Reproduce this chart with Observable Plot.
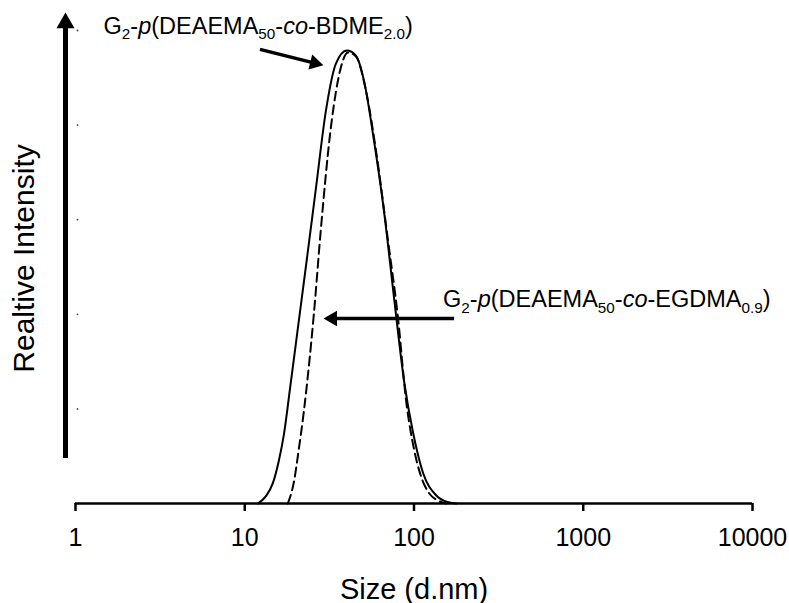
<!DOCTYPE html>
<html>
<head>
<meta charset="utf-8">
<script src="https://cdn.jsdelivr.net/npm/d3@7"></script>
<script src="https://cdn.jsdelivr.net/npm/@observablehq/plot@0.6"></script>
<style>
  html, body { margin: 0; padding: 0; background: #fff; }
  #chart { width: 789px; height: 603px; }
</style>
</head>
<body>
<div id="chart"></div>
<script>
// ---- Data ----
// Solid curve: G2-p(DEAEMA50-co-BDME2.0)
const solidSize      = [11.94, 13.31, 14.64, 15.89, 17.02, 18.47, 20.59, 22.96, 26.31, 30.16, 34.56, 40.14, 45.4, 50.6, 58.0, 66.4, 76.2, 87.3, 98.7, 113, 135, 160, 178];
const solidIntensity = [0,     0.3,   0.85,  1.8,   2.9,   4.8,   7.4,   10.0,  13.3,  16.6,  18.6,  19.15, 18.94, 17.89, 15.35, 12.39, 8.71, 5.2, 3.0, 1.3, 0.35, 0.05, 0];
// Dashed curve: G2-p(DEAEMA50-co-EGDMA0.9)
const dashedSize      = [17.97, 19.5, 20.87, 22.35, 23.92, 25.6, 28.17, 32.28, 36.98, 40.7, 45.4, 52.0, 59.6, 70.2, 80.4, 90, 100, 110, 121, 139, 155];
const dashedIntensity = [0,     0.9,  2.3,   3.9,   5.8,   8.0,  11.6,  15.9,  18.44, 19.07, 18.9, 17.46, 14.93, 11.12, 7.86, 4.3, 2.3, 1.15, 0.5, 0.12, 0];

const xTicks = [1, 10, 100, 1000, 10000];
const yTickDots = [4, 8, 12, 16, 20];

const xTitle = "Size (d.nm)";
const yTitle = "Realtive Intensity";

// Annotation labels (rich text parts: [text, style])
const label1Parts = [["G","n"],["2","sub"],["-","n"],["p","i"],["(DEAEMA","n"],["50","sub"],["-","n"],["co","i"],["-BDME","n"],["2.0","sub"],[")","n"]];
const label2Parts = [["G","n"],["2","sub"],["-","n"],["p","i"],["(DEAEMA","n"],["50","sub"],["-","n"],["co","i"],["-EGDMA","n"],["0.9","sub"],[")","n"]];
const label1Pos = [1.465, 19.87];
const label2Pos = [148.5, 8.29];
// Annotation arrows: [xStart, yStart, xHead, yHead, headRotation]
const arrow1 = [12.3, 19.2, 25.9, 18.62, 104];
const arrow2 = [172.5, 7.82, 33.0, 7.82, 270];
// Y axis arrow: [bottom, top of shaft, head centre]
const yArrow = [1.9, 20.1, 20.32];

// ---- Build tables ----
const solid = solidSize.map((s, i) => ({size: s, intensity: solidIntensity[i]}));
const dashed = dashedSize.map((s, i) => ({size: s, intensity: dashedIntensity[i]}));
const plain = parts => parts.map(p => p[0]).join("");
const labels = [
  {x: label1Pos[0], y: label1Pos[1], text: plain(label1Parts), parts: label1Parts},
  {x: label2Pos[0], y: label2Pos[1], text: plain(label2Parts), parts: label2Parts}
];
const arrows = [arrow1, arrow2].map(a => ({x1: a[0], y1: a[1], x2: a[2], y2: a[3], rot: a[4]}));

const FONT = "'Liberation Sans', Arial, Helvetica, sans-serif";
const labelFS = 23.5;

const plot = Plot.plot({
  width: 789,
  height: 603,
  marginLeft: 75,
  marginRight: 37,
  marginTop: 30,
  marginBottom: 100,
  style: {fontFamily: FONT, background: "#fff", color: "#000", overflow: "visible"},
  x: {type: "log", domain: [1, 10000]},
  y: {domain: [0, 20], axis: null},
  marks: [
    // y-axis tick remnants (tiny dots)
    Plot.dot(yTickDots, {x: () => 1, y: d => d, r: 0.9, fill: "#444", stroke: null, dx: 2}),
    // y axis arrow
    Plot.ruleX([1], {y1: yArrow[0], y2: yArrow[1], dx: -10, stroke: "#000", strokeWidth: 5}),
    Plot.dot([1], {x: d => d, y: yArrow[2], symbol: "triangle", r: 6.7, fill: "#000", stroke: null, dx: -10}),
    // x axis
    Plot.ruleY([0], {stroke: "#000", strokeWidth: 2.5}),
    Plot.axisX({ticks: xTicks, tickFormat: d => String(d), tickSize: 8, tickPadding: 17, strokeWidth: 2.5, fontSize: 25, label: null}),
    Plot.text([xTitle], {frameAnchor: "bottom", lineAnchor: "bottom", dy: 95, fontSize: 29, text: d => d}),
    Plot.text([yTitle], {frameAnchor: "left", textAnchor: "middle", lineAnchor: "middle", rotate: -90, dx: -51, dy: -8.5, fontSize: 30, text: d => d}),
    // curves
    Plot.line(solid, {x: "size", y: "intensity", curve: "monotone-x", stroke: "#000", strokeWidth: 2}),
    Plot.line(dashed, {x: "size", y: "intensity", curve: "monotone-x", stroke: "#000", strokeWidth: 2, strokeDasharray: "9,5"}),
    // annotation arrows
    Plot.link(arrows, {x1: "x1", y1: "y1", x2: "x2", y2: "y2", stroke: "#000", strokeWidth: 3.5}),
    Plot.dot(arrows, {x: "x2", y: "y2", symbol: "triangle", r: 5.8, rotate: "rot", fill: "#000", stroke: null}),
    // annotation labels
    Plot.text(labels, {x: "x", y: "y", text: "text", textAnchor: "start", lineAnchor: "bottom", fontSize: labelFS})
  ]
});

// Convert annotation labels to rich text (subscripts / italics)
plot.querySelectorAll("text").forEach(t => {
  const lab = labels.find(l => l.text === t.textContent);
  if (!lab) return;
  t.textContent = "";
  const subFS = labelFS * 0.65;
  const shift = labelFS * 0.22;
  let down = false;
  for (const [str, kind] of lab.parts) {
    const ts = document.createElementNS("http://www.w3.org/2000/svg", "tspan");
    ts.textContent = str;
    if (kind === "sub") {
      ts.setAttribute("font-size", subFS);
      if (!down) { ts.setAttribute("dy", shift); down = true; }
    } else {
      if (down) { ts.setAttribute("dy", -shift); down = false; }
      if (kind === "i") ts.setAttribute("font-style", "italic");
    }
    t.appendChild(ts);
  }
});

document.getElementById("chart").appendChild(plot);
</script>
</body>
</html>
